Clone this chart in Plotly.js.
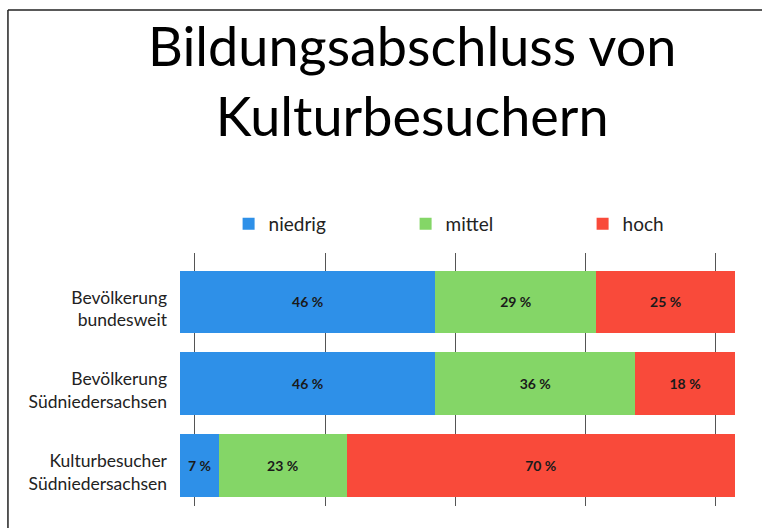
<!DOCTYPE html>
<html>
<head>
<meta charset="utf-8">
<script src="https://cdn.plot.ly/plotly-3.0.1.min.js"></script>
<style>html,body{margin:0;padding:0;background:#fff;}#chart{width:762px;height:528px;}</style>
</head>
<body>
<div id="chart"></div>
<script>
const categories = ["Bevölkerung<br>bundesweit", "Bevölkerung<br>Südniedersachsen", "Kulturbesucher<br>Südniedersachsen"];
const seriesNames = ["niedrig", "mittel", "hoch"];
const niedrig = [46, 46, 7];
const mittel = [29, 36, 23];
const hoch = [25, 18, 70];
const colors = ["#2e90e8", "#84d667", "#f94a3a"];
const gridTicks = [0, 25, 50, 75, 100];

const values = [niedrig, mittel, hoch];
const FONT = "Lato, 'Open Sans', sans-serif";

const traces = values.map((v, i) => ({
  type: "bar",
  orientation: "h",
  name: seriesNames[i],
  y: categories,
  x: v,
  text: v.map(d => d + " %"),
  textposition: "inside",
  insidetextanchor: "middle",
  textfont: {family: FONT, size: 14, color: "#1a1a1a", weight: "bold"},
  marker: {color: colors[i], line: {width: 0}},
  hoverinfo: "skip"
}));

// invisible helper trace so the back-plane grid axis (xaxis2) is drawn
traces.push({
  type: "scatter", mode: "markers", x: [], y: [],
  xaxis: "x2", yaxis: "y", showlegend: false, hoverinfo: "skip"
});

const layout = {
  width: 762,
  height: 528,
  margin: {l: 180, r: 27, t: 253, b: 22, autoexpand: false},
  paper_bgcolor: "#fff",
  plot_bgcolor: "rgba(0,0,0,0)",
  barmode: "stack",
  bargap: 0.23,
  font: {family: FONT, color: "#222"},
  title: {
    text: "Bildungsabschluss von<br>Kulturbesuchern",
    font: {family: FONT, size: 54, color: "#000"},
    xref: "container", x: 0.541, xanchor: "center",
    yref: "container", y: 0.875, yanchor: "middle"
  },
  showlegend: true,
  legend: {
    orientation: "h",
    xref: "container", x: 0.3, xanchor: "left",
    yref: "container", y: 0.576, yanchor: "middle",
    font: {family: FONT, size: 19, color: "#222"},
    entrywidth: 132, entrywidthmode: "pixels",
    traceorder: "normal",
    bgcolor: "rgba(0,0,0,0)"
  },
  xaxis: {
    range: [0, 100],
    showticklabels: false,
    ticks: "",
    showgrid: false,
    zeroline: false,
    showline: false,
    fixedrange: true
  },
  xaxis2: {
    overlaying: "x",
    range: [-2.88, 103.8],
    tickvals: gridTicks,
    showticklabels: false,
    ticks: "",
    showgrid: true,
    gridcolor: "#555",
    gridwidth: 1,
    zeroline: false,
    showline: false,
    fixedrange: true
  },
  yaxis: {
    type: "category",
    categoryorder: "array",
    categoryarray: categories,
    range: [2.5, -0.6],
    ticks: "",
    ticklabelstandoff: 12,
    ticklabelshift: -7,
    tickfont: {family: FONT, size: 17.5, color: "#222"},
    showgrid: false,
    zeroline: false,
    showline: false,
    fixedrange: true
  },
  shapes: [
    {type: "line", xref: "paper", yref: "paper", x0: -0.31, x1: 1.06, y0: 1.96, y1: 1.96, line: {color: "#222", width: 1.5}},
    {type: "line", xref: "paper", yref: "paper", x0: -0.31, x1: -0.31, y0: 1.96, y1: -0.1, line: {color: "#222", width: 1.5}}
  ]
};

Plotly.newPlot("chart", traces, layout, {displayModeBar: false, staticPlot: true});
</script>
</body>
</html>
